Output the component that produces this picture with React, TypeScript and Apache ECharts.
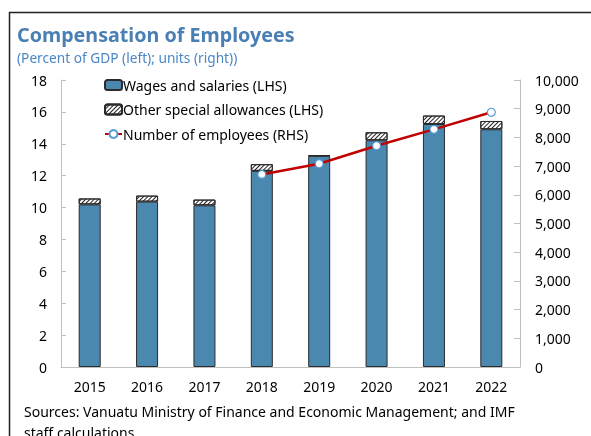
import React, { useEffect, useRef } from "react";
import * as echarts from "echarts";

const years = ["2015", "2016", "2017", "2018", "2019", "2020", "2021", "2022"];
const wages = [10.2, 10.37, 10.14, 12.3, 13.24, 14.22, 15.24, 14.91];
const allowances = [0.37, 0.38, 0.36, 0.42, 0.04, 0.5, 0.53, 0.52];
const employees = [null, null, null, 6710, 7080, 7710, 8280, 8875];

const FONT = "Noto Sans";

export default function App() {
  const ref = useRef<HTMLDivElement>(null);
  useEffect(() => {
    if (!ref.current) return;
    const chart = echarts.init(ref.current, null, { renderer: "svg" });
    chart.setOption({
      animation: false,
      textStyle: { fontFamily: FONT },
      title: [
        {
          text: "Compensation of Employees",
          left: 12,
          top: 19,
          textStyle: { fontSize: 19.7, fontWeight: "bold", color: "#4a7fb3", fontFamily: FONT },
        },
        {
          text: "(Percent of GDP (left); units (right))",
          left: 12,
          top: 45,
          textStyle: { fontSize: 13.7, fontWeight: "normal", color: "#4a86c6", fontFamily: FONT },
        },
      ],
      legend: {
        orient: "vertical",
        left: 99,
        top: 73,
        itemWidth: 17,
        itemHeight: 10,
        itemGap: 10.5,
        textStyle: { fontSize: 14, color: "#000", fontFamily: FONT, padding: [0, 0, 0, -4] },
        data: [
          { name: "Wages and salaries (LHS)" },
          { name: "Other special allowances (LHS)" },
          { name: "Number of employees (RHS)" },
        ],
      },
      grid: { left: 61, right: 71, top: 80, bottom: 69, containLabel: false },
      xAxis: {
        type: "category",
        data: years,
        axisLine: { lineStyle: { color: "#bfbfbf", width: 1 } },
        axisTick: { inside: true, length: 5, lineStyle: { color: "#bfbfbf" } },
        axisLabel: { fontSize: 14, color: "#000", margin: 12, fontFamily: FONT },
      },
      yAxis: [
        {
          type: "value",
          min: 0,
          max: 18,
          interval: 2,
          splitLine: { show: false },
          axisLine: { show: true, lineStyle: { color: "#bfbfbf" } },
          axisTick: { show: true, inside: true, length: 5, lineStyle: { color: "#bfbfbf" } },
          axisLabel: { fontSize: 14, color: "#000", margin: 14, fontFamily: FONT },
        },
        {
          type: "value",
          min: 0,
          max: 10000,
          interval: 1000,
          position: "right",
          splitLine: { show: false },
          axisLine: { show: true, lineStyle: { color: "#bfbfbf" } },
          axisTick: { show: true, inside: true, length: 6, lineStyle: { color: "#bfbfbf" } },
          axisLabel: {
            fontSize: 14,
            color: "#000",
            margin: 15,
            fontFamily: FONT,
            formatter: (v: number) => v.toLocaleString("en-US"),
          },
        },
      ],
      series: [
        {
          name: "Wages and salaries (LHS)",
          type: "bar",
          stack: "a",
          barWidth: 22,
          data: wages,
          itemStyle: { color: "#4a88b0", borderColor: "#2b2b2b", borderWidth: 1 },
        },
        {
          name: "Other special allowances (LHS)",
          type: "bar",
          stack: "a",
          barWidth: 22,
          data: allowances,
          itemStyle: {
            color: "#ffffff",
            borderColor: "#2b2b2b",
            borderWidth: 1,
            decal: {
              symbol: "rect",
              symbolSize: 1,
              color: "#222222",
              backgroundColor: "#ffffff",
              dashArrayX: [1, 0],
              dashArrayY: [1, 1.6],
              rotation: -Math.PI / 4,
            },
          },
        },
        {
          name: "Number of employees (RHS)",
          type: "line",
          yAxisIndex: 1,
          data: employees,
          symbol: "circle",
          symbolSize: 8,
          lineStyle: { color: "#c00000", width: 2.5 },
          itemStyle: { color: "#ffffff", borderColor: "#5b9bd5", borderWidth: 1.2 },
          z: 5,
        },
      ],
      graphic: [
        {
          type: "line",
          shape: { x1: 9.5, y1: 12, x2: 9.5, y2: 436 },
          style: { stroke: "#222", lineWidth: 1.5 },
        },
        {
          type: "line",
          shape: { x1: 9, y1: 12.5, x2: 591, y2: 12.5 },
          style: { stroke: "#222", lineWidth: 1.5 },
        },
        {
          type: "text",
          left: 24,
          top: 401,
          style: {
            text: "Sources: Vanuatu Ministry of Finance and Economic Management; and IMF\nstaff calculations",
            font: `14px "${FONT}"`,
            fill: "#000",
            lineHeight: 21,
          },
        },
      ],
    });
    return () => chart.dispose();
  }, []);
  return (
    <div
      ref={ref}
      style={{ position: "fixed", left: 0, top: 0, width: 591, height: 436 }}
    />
  );
}
